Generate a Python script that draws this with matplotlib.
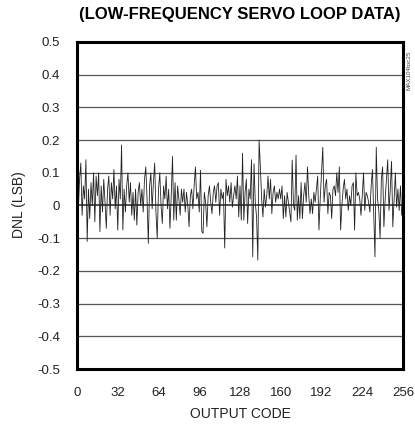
import matplotlib
matplotlib.use("Agg")
import matplotlib.pyplot as plt
from matplotlib import font_manager

codes = list(range(257))
dnl = [
    0.05, -0.02, 0.08, 0.13, -0.03, 0.06, 0.02, 0.14, -0.11, 0.05, -0.04, 0.07, 0.00, 0.10, -0.05, 0.09,
    0.03, 0.10, -0.08, 0.06, -0.02, 0.08, 0.01, -0.07, 0.05, 0.09, -0.03, 0.07, 0.02, 0.11, -0.01, 0.06,
    -0.075, 0.08, 0.02, 0.185, -0.075, 0.05, -0.02, 0.06, 0.10, 0.01, 0.07, -0.03, 0.04, -0.045, 0.05, -0.06,
    0.04, 0.07, 0.00, 0.05, -0.02, 0.08, 0.118, 0.02, -0.116, 0.06, 0.10, -0.01, 0.07, 0.13, -0.02, -0.10,
    0.05, 0.10, 0.00, -0.055, 0.06, 0.02, 0.09, -0.01, 0.05, -0.07, 0.03, 0.15, -0.045, 0.07, -0.045, 0.06,
    0.02, -0.03, 0.05, 0.01, 0.05, -0.02, 0.04, 0.00, -0.065, 0.03, 0.05, -0.01, 0.06, 0.118, 0.02, 0.04,
    -0.02, 0.108, -0.08, -0.085, 0.04, 0.01, -0.065, 0.03, 0.06, 0.01, -0.025, 0.04, 0.06, 0.01, 0.06, 0.07,
    -0.03, 0.05, 0.02, 0.04, -0.13, 0.08, 0.03, 0.06, 0.01, 0.07, -0.005, 0.03, 0.06, 0.02, 0.09, -0.035,
    0.06, -0.045, 0.16, -0.045, 0.04, 0.08, -0.055, 0.05, 0.02, 0.14, -0.157, 0.128, 0.01, -0.035, -0.167, 0.20,
    0.118, 0.02, -0.035, 0.05, -0.005, 0.03, 0.09, 0.02, 0.08, -0.025, 0.04, 0.06, 0.01, 0.04, 0.02, 0.05,
    0.02, 0.06, -0.04, 0.03, -0.035, 0.04, 0.01, -0.02, -0.05, 0.139, 0.00, -0.015, 0.154, -0.045, 0.03, -0.04,
    0.07, -0.04, 0.03, 0.07, 0.01, 0.118, 0.03, -0.025, 0.02, -0.025, 0.04, 0.01, 0.05, 0.09, -0.075, 0.02,
    0.10, 0.178, 0.01, 0.06, 0.08, -0.025, 0.04, 0.03, -0.04, 0.05, 0.06, 0.03, 0.10, 0.04, 0.118, -0.075,
    0.00, 0.05, 0.08, 0.02, 0.05, -0.015, 0.03, 0.00, 0.06, 0.07, -0.075, 0.10, 0.03, 0.04, 0.02, -0.03,
    0.03, 0.10, -0.015, 0.04, 0.03, 0.01, -0.02, 0.06, 0.11, -0.025, -0.157, 0.178, 0.02, -0.015, -0.10, 0.08,
    0.118, -0.065, 0.02, 0.08, 0.14, -0.015, 0.05, 0.135, -0.065, 0.02, 0.10, -0.005, 0.05, -0.015, 0.06, -0.03,
    0.00,
]
xticks = [0, 32, 64, 96, 128, 160, 192, 224, 256]
yticks = [-0.5, -0.4, -0.3, -0.2, -0.1, 0, 0.1, 0.2, 0.3, 0.4, 0.5]
ytick_labels = ["-0.5", "-0.4", "-0.3", "-0.2", "-0.1", "0", "0.1", "0.2", "0.3", "0.4", "0.5"]

names = {f.name for f in font_manager.fontManager.ttflist}
fam = ["Liberation Sans Narrow", "DejaVu Sans"] if "Liberation Sans Narrow" in names else ["Liberation Sans", "DejaVu Sans"]
plt.rcParams['font.family'] = fam

fig = plt.figure(figsize=(4.15, 4.26), dpi=100)
ax = fig.add_axes([77/415, 1-369/426, 326/415, 327/426])

for v in yticks[1:-1]:
    ax.axhline(v, color="#555555" if v != 0 else "#222222", lw=0.9 if v != 0 else 1.1, zorder=1)

ax.plot(codes, dnl, color="#222222", lw=0.6, zorder=2)

ax.set_xlim(0, 256)
ax.set_ylim(-0.5, 0.5)
ax.set_xticks(xticks)
ax.set_xticklabels([str(t) for t in xticks], fontsize=9.5, color="#222222")
ax.set_yticks(yticks)
ax.set_yticklabels(ytick_labels, fontsize=9.5, color="#222222")
ax.tick_params(axis="both", length=0)
ax.tick_params(axis="y", pad=12)
ax.tick_params(axis="x", pad=13)
for s in ax.spines.values():
    s.set_linewidth(2.2)
    s.set_color("black")

ax.set_xlabel("OUTPUT CODE", fontsize=10, labelpad=6, color="#222222")
fig.text(19/415, 1-205/426, "DNL (LSB)", rotation=90, ha="center", va="center",
         fontsize=10, color="#222222")
fig.text(240/415, 1-14/426, "(LOW-FREQUENCY SERVO LOOP DATA)", ha="center", va="center",
         fontsize=12, fontweight="bold")
fig.text(409/415, 1-70/426, "MAX104toc25", rotation=90, ha="center", va="center",
         fontsize=4.5, color="#444444")

fig.savefig("out.png", dpi=100)
